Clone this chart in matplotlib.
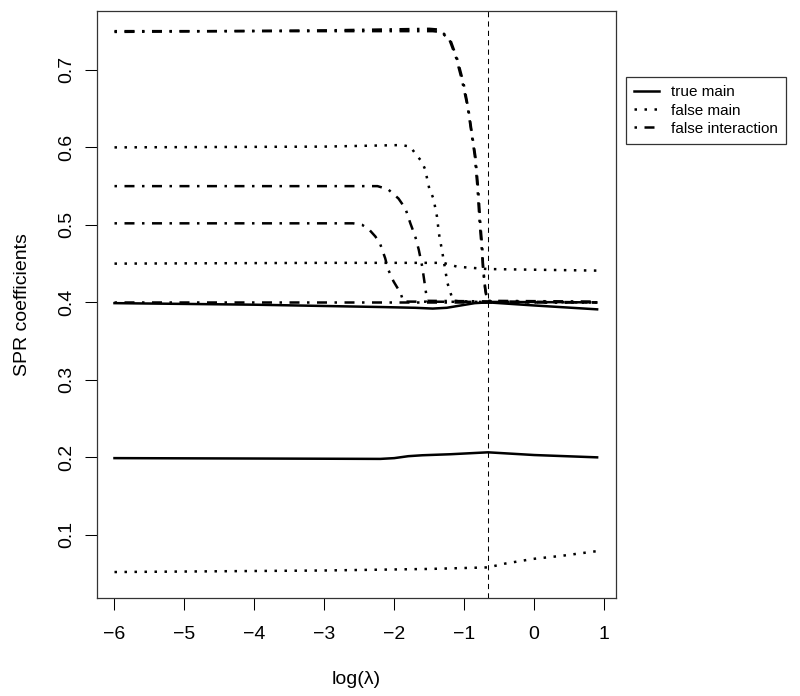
import numpy as np
import matplotlib
matplotlib.use("Agg")
import matplotlib.pyplot as plt

plt.rcParams['font.family'] = ['Liberation Sans', 'DejaVu Sans']

# true main effects (solid)
tm1_x = [-6, -4, -2.2, -1.7, -1.45, -1.25, -1.05, -0.85, -0.66, 0, 0.9]
tm1_y = [0.399, 0.397, 0.394, 0.393, 0.392, 0.393, 0.396, 0.399, 0.400, 0.396, 0.391]
tm2_x = [-6, -4, -2.2, -2.0, -1.8, -1.6, -1.2, -0.66, 0, 0.9]
tm2_y = [0.199, 0.1985, 0.198, 0.199, 0.2015, 0.2027, 0.204, 0.2065, 0.203, 0.200]

# false main effects (dotted)
fm1_x = [-6, -3, -1.9, -1.77, -1.7, -1.61, -1.56, -1.5, -1.44, -1.39, -1.36, -1.31, -1.24, -1.16, -0.66, 0.9]
fm1_y = [0.600, 0.601, 0.603, 0.601, 0.592, 0.582, 0.572, 0.547, 0.534, 0.511, 0.488, 0.463, 0.425, 0.402, 0.400, 0.400]
fm2_x = [-6, -3, -1.3, -1.1, -0.81, -0.66, 0.9]
fm2_y = [0.450, 0.451, 0.451, 0.446, 0.444, 0.443, 0.441]
fm3_x = [-6, -3, -1.5, -0.66, -0.41, -0.01, 0.4, 0.9]
fm3_y = [0.052, 0.054, 0.056, 0.058, 0.063, 0.069, 0.073, 0.079]

# false interactions (dot-dash)
fi1_x = [-6, -3, -1.45, -1.34, -1.2, -1.1, -1.01, -0.94, -0.89, -0.84, -0.8, -0.77, -0.74, -0.73, -0.7, -0.67, 0.9]
fi1_y = [0.750, 0.750, 0.750, 0.749, 0.739, 0.714, 0.683, 0.649, 0.618, 0.588, 0.546, 0.502, 0.468, 0.443, 0.417, 0.401, 0.400]
fi2_x = [-6, -3, -1.5, -1.36, -1.22, -1.12, -1.03, -0.95, -0.9, -0.85, -0.81, -0.78, -0.75, -0.73, -0.7, -0.67, 0.9]
fi2_y = [0.749, 0.751, 0.753, 0.752, 0.741, 0.717, 0.686, 0.652, 0.621, 0.590, 0.548, 0.504, 0.470, 0.445, 0.418, 0.402, 0.401]
fi3_x = [-6, -3, -2.24, -2.09, -1.94, -1.84, -1.77, -1.7, -1.65, -1.6, -1.56, -1.53, 0.9]
fi3_y = [0.550, 0.550, 0.550, 0.546, 0.534, 0.521, 0.502, 0.485, 0.468, 0.446, 0.421, 0.402, 0.400]
fi4_x = [-6, -3, -2.59, -2.46, -2.37, -2.27, -2.2, -2.13, -2.09, -2.01, -1.91, -1.87, 0.9]
fi4_y = [0.502, 0.502, 0.502, 0.500, 0.495, 0.485, 0.475, 0.457, 0.443, 0.427, 0.412, 0.401, 0.400]
fi5_x = [-6, 0.9]
fi5_y = [0.400, 0.400]

lam_opt = -0.66

x_ticks = [-6, -5, -4, -3, -2, -1, 0, 1]
y_ticks = [0.1, 0.2, 0.3, 0.4, 0.5, 0.6, 0.7]

fig = plt.figure(figsize=(8, 6.96), dpi=100)
ax = fig.add_axes([97/800, 1 - 598/696, (616-97)/800, (598-11)/696])

lw = 1.8
dot = (0, (1, 3))
dotdash = (0, (1, 3, 4, 3))

ax.plot(tm1_x, tm1_y, color='black', lw=lw, label='true main')
ax.plot(tm2_x, tm2_y, color='black', lw=lw)
ax.plot(fm1_x, fm1_y, color='black', lw=lw, ls=dot, dash_capstyle='butt', label='false main')
ax.plot(fm2_x, fm2_y, color='black', lw=lw, ls=dot, dash_capstyle='butt')
ax.plot(fm3_x, fm3_y, color='black', lw=lw, ls=dot, dash_capstyle='butt')
ax.plot(fi1_x, fi1_y, color='black', lw=lw, ls=dotdash, dash_capstyle='butt', label='false interaction')
ax.plot(fi2_x, fi2_y, color='black', lw=lw, ls=dotdash, dash_capstyle='butt')
ax.plot(fi3_x, fi3_y, color='black', lw=lw, ls=dotdash, dash_capstyle='butt')
ax.plot(fi4_x, fi4_y, color='black', lw=lw, ls=dotdash, dash_capstyle='butt')
ax.plot(fi5_x, fi5_y, color='black', lw=lw, ls=dotdash, dash_capstyle='butt')

ax.axvline(lam_opt, color='black', lw=0.75, ls=(0, (5, 4)))

ax.set_xlim(-6.25, 1.17)
ax.set_ylim(0.0185, 0.776)
ax.set_xticks(x_ticks)
ax.set_yticks(y_ticks)
ax.set_xticklabels([str(t).replace('-', '\u2212') for t in x_ticks])
ax.set_yticklabels([str(t) for t in y_ticks], rotation=90, va='center')
ax.tick_params(direction='out', length=8.5, width=0.75, labelsize=14, pad=12)
ax.tick_params(axis='y', pad=7)
for s in ax.spines.values():
    s.set_linewidth(0.9)
    s.set_color('#333333')

ax.set_xlabel('log(\u03bb)', fontsize=14, labelpad=20)
ax.set_ylabel('SPR coefficients', fontsize=14, labelpad=20)

leg = fig.legend(loc='upper left', bbox_to_anchor=(626/800, 1 - 77/696),
                 borderaxespad=0, fontsize=11, frameon=True, fancybox=False,
                 handlelength=1.6, handletextpad=0.8, borderpad=0.55,
                 labelspacing=0.27)
leg.get_frame().set_edgecolor('black')
leg.get_frame().set_linewidth(0.9)

plt.savefig('out.png', dpi=100)
